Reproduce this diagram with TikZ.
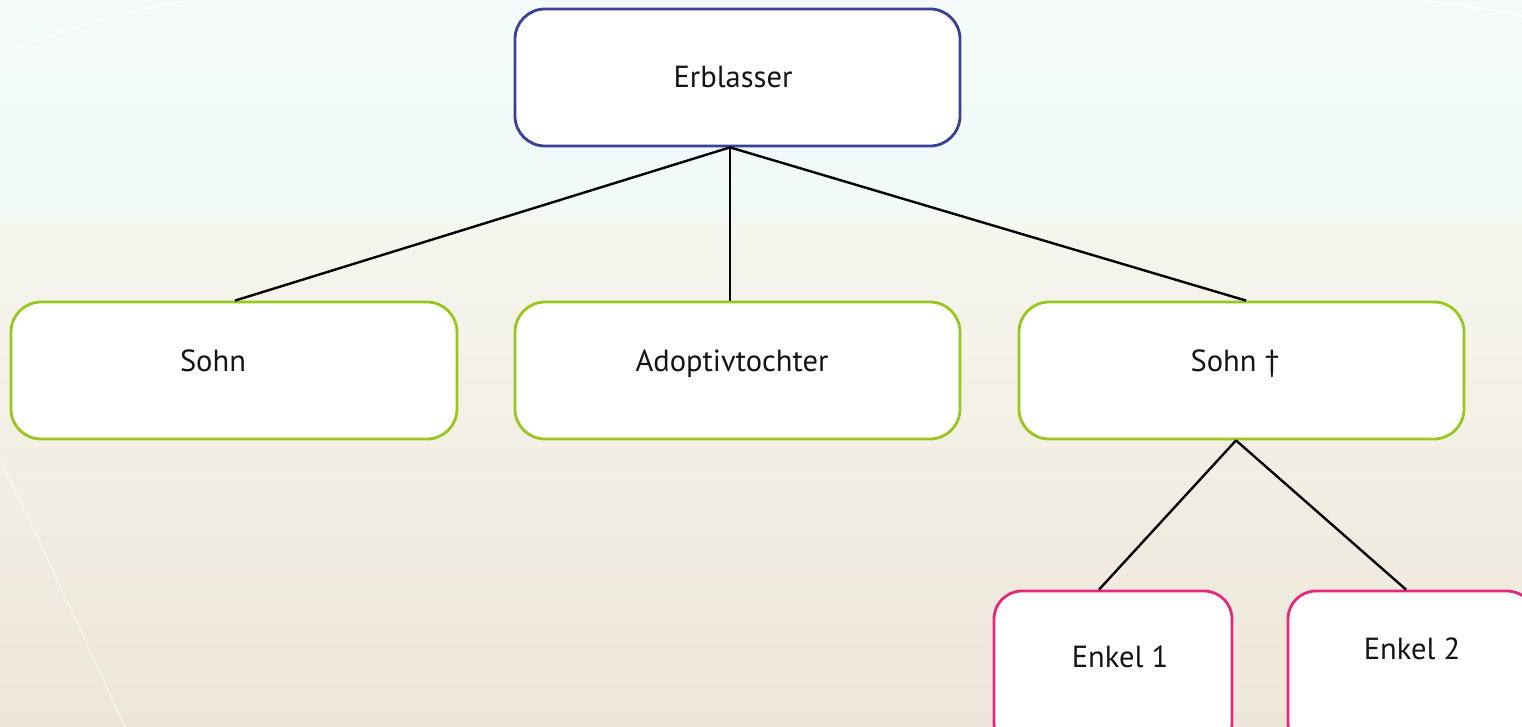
\documentclass[tikz,border=0pt]{standalone}
\usepackage{fontspec}
\setmainfont{PT Sans}
\usetikzlibrary{calc}

\definecolor{skytop}{RGB}{245,251,251}
\definecolor{skylow}{RGB}{240,250,248}
\definecolor{sandtop}{RGB}{246,246,238}
\definecolor{sandlow}{RGB}{237,229,217}
\definecolor{rootblue}{RGB}{58,64,150}
\definecolor{childgreen}{RGB}{154,198,30}
\definecolor{grandpink}{RGB}{230,40,120}

\tikzset{
  familybox/.style={draw, line width=2.8pt, fill=white, rounded corners=30pt,
                    inner sep=0pt},
  rootbox/.style={familybox, draw=rootblue},
  childbox/.style={familybox, draw=childgreen},
  grandbox/.style={familybox, draw=grandpink, rounded corners=28pt},
  namelabel/.style={anchor=base, font=\fontsize{30.5}{36}\selectfont, text=black!92},
  link/.style={draw=black, line width=2.4pt}
}

\begin{document}
\begin{tikzpicture}[x=1pt, y=-1pt]
  \useasboundingbox (0,0) rectangle (1522,727);
  \clip (0,0) rectangle (1522,727);

  % backdrop: pale sky band above, warm sand below, soft seam between
  \shade[top color=skytop, bottom color=skylow] (0,0) rectangle (1522,206);
  \shade[top color=skylow, bottom color=sandtop] (0,205) rectangle (1522,226);
  \shade[top color=sandtop, bottom color=sandlow] (0,225) rectangle (1522,727);
  \draw[white, line width=2pt, opacity=0.7] (0,55) .. controls (60,30) and (120,12) .. (190,0);
  \draw[white, line width=2pt, opacity=0.7] (1420,0) .. controls (1460,5) and (1490,9) .. (1522,16);
  \draw[white, line width=1.5pt, opacity=0.5] (0,460) .. controls (40,540) and (80,630) .. (125,727);

  % boxes
  \node[rootbox,  minimum width=445pt, minimum height=137pt] (erb)   at (737.5,77.5) {};
  \node[childbox, minimum width=446pt, minimum height=137pt] (sohn)  at (234,370.5) {};
  \node[childbox, minimum width=445pt, minimum height=137pt] (adopt) at (737.5,370.5) {};
  \node[childbox, minimum width=445pt, minimum height=137pt] (sohnt) at (1241.5,370.5) {};
  \node[grandbox, minimum width=238pt, minimum height=160pt] (enk1)  at (1113,671) {};
  \node[grandbox, minimum width=247pt, minimum height=160pt] (enk2)  at (1411.5,671) {};

  % names
  \node[namelabel] (erb-t)   at (733,88)   {Erblasser};
  \node[namelabel] (sohn-t)  at (213,371)  {Sohn};
  \node[namelabel] (adopt-t) at (732,371)  {Adoptivtochter};
  \node[namelabel] (sohnt-t) at (1235,371) {Sohn †};
  \node[namelabel] (enk1-t)  at (1120,667) {Enkel 1};
  \node[namelabel] (enk2-t)  at (1412,659) {Enkel 2};

  % family links
  \coordinate (erb-foot)   at ([xshift=-7.5pt]erb.south);
  \coordinate (sohnt-foot) at ([xshift=-5.5pt]sohnt.south);
  \draw[link] (erb-foot) -- ([xshift=1pt]sohn.north);
  \draw[link] (erb-foot) -- ([xshift=-7.5pt]adopt.north);
  \draw[link] (erb-foot) -- ([xshift=4.5pt]sohnt.north);
  \draw[link] (sohnt-foot) -- ([xshift=-14pt]enk1.north);
  \draw[link] (sohnt-foot) -- ([xshift=-5.5pt]enk2.north);
\end{tikzpicture}
\end{document}
